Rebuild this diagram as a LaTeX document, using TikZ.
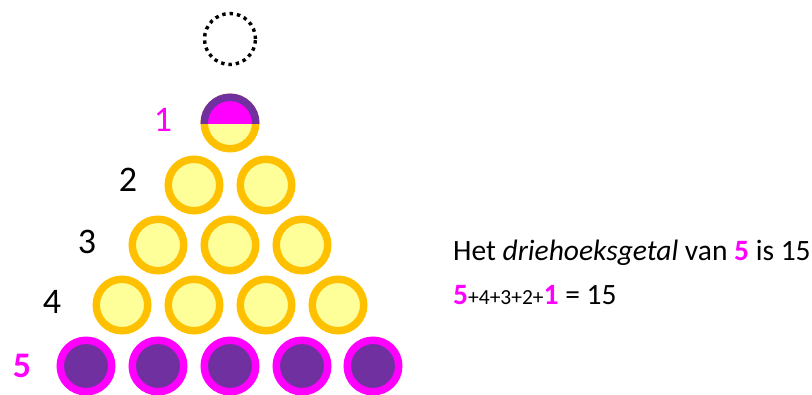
\documentclass[tikz,border=0pt]{standalone}
\usepackage{fontspec}
\setmainfont{Carlito}
\definecolor{mag}{HTML}{FF00FF}
\definecolor{purp}{HTML}{7030A0}
\definecolor{gold}{HTML}{FFC000}
\definecolor{lyel}{HTML}{FFFF99}
\tikzset{
  ball/.style={circle, minimum size=51.5pt, inner sep=0pt, line width=7.5pt},
  yball/.style={ball, draw=gold, fill=lyel},
  pball/.style={ball, draw=mag, fill=purp},
  rowlab/.style={font=\fontsize{36}{40}\selectfont, anchor=center},
  txt/.style={font=\fontsize{29.5}{34}\selectfont, anchor=base west, inner sep=0pt}
}
\begin{document}
\begin{tikzpicture}[x=1pt,y=-1pt]
\useasboundingbox (0,0) rectangle (812,394);
% dotted circle
\node[circle, minimum size=51pt, inner sep=0pt, draw=black, line width=3.4pt, dash pattern=on 3.4pt off 4pt] (c0) at (230,39) {};
% row 1
\node[yball] (c11) at (230,123) {};
\begin{scope}
\clip (190,80) rectangle (270,123);
\node[ball, draw=purp, fill=mag] (c11top) at (230,123) {};
\end{scope}
% row 2
\node[yball] (c21) at (194,185) {};
\node[yball] (c22) at (266,185) {};
% row 3
\node[yball] (c31) at (158,245) {};
\node[yball] (c32) at (230,245) {};
\node[yball] (c33) at (302,245) {};
% row 4
\node[yball] (c41) at (122,305) {};
\node[yball] (c42) at (194,305) {};
\node[yball] (c43) at (266,305) {};
\node[yball] (c44) at (338,305) {};
% row 5
\node[pball] (c51) at (86,366) {};
\node[pball] (c52) at (158,366) {};
\node[pball] (c53) at (230,366) {};
\node[pball] (c54) at (302,366) {};
\node[pball] (c55) at (373,366) {};
% row labels
\node[rowlab, text=mag] (l1) at (163,120) {1};
\node[rowlab] (l2) at (128,180) {2};
\node[rowlab] (l3) at (87,242) {3};
\node[rowlab] (l4) at (52,302) {4};
\node[rowlab, text=mag, font=\fontsize{36}{40}\selectfont\bfseries] (l5) at (22,366) {5};
% text
\node[txt] (t1) at (453,260) {Het \textit{driehoeksgetal} van \textcolor{mag}{\textbf{5}} is 15};
\node[txt] (t2) at (453,304) {\textcolor{mag}{\textbf{5}}{\fontsize{21.5}{24}\selectfont+4+3+2+}\textcolor{mag}{\textbf{1}} = 15};
\end{tikzpicture}
\end{document}
